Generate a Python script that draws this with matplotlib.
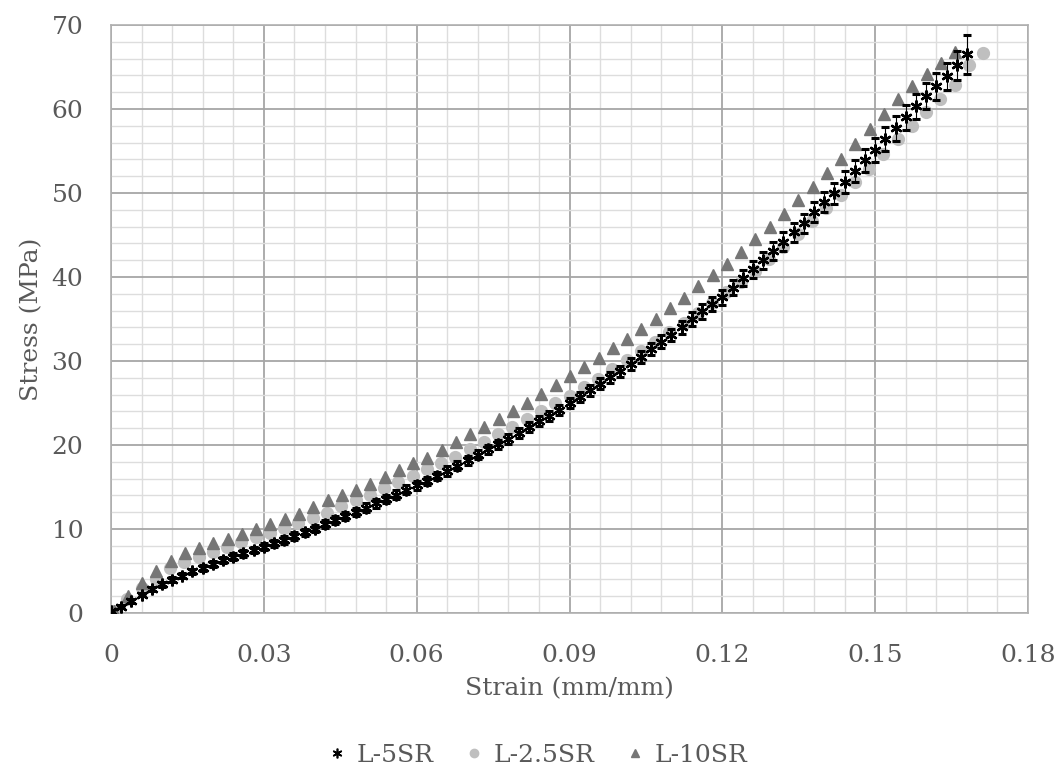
import numpy as np
import matplotlib
matplotlib.use('Agg')
import matplotlib.pyplot as plt
from matplotlib.lines import Line2D
from matplotlib.ticker import MultipleLocator, FormatStrFormatter

# ── Data ───────────────────────────────────────────────────
series_names = ['L-5SR', 'L-2.5SR', 'L-10SR']

# L-5SR: sampled every 0.002 mm/mm
strain_step_5 = 0.002
stress_5 = [
    0.2, 0.75, 1.45, 2.2, 2.85, 3.4, 3.95, 4.45, 4.95, 5.4,
    5.85, 6.3, 6.7, 7.1, 7.5, 7.9, 8.3, 8.7, 9.15, 9.6,
    10.05, 10.6, 11.1, 11.55, 12.05, 12.55, 13.05, 13.55, 14.1, 14.7,
    15.2, 15.75, 16.3, 16.9, 17.55, 18.2, 18.85, 19.5, 20.1, 20.75,
    21.45, 22.15, 22.85, 23.5, 24.2, 25.0, 25.75, 26.5, 27.3, 28.05,
    28.8, 29.6, 30.45, 31.4, 32.3, 33.1, 34.0, 35.0, 35.9, 36.8,
    37.6, 38.7, 39.9, 40.9, 42.0, 43.1, 44.2, 45.3, 46.4, 47.7,
    48.9, 50.0, 51.3, 52.6, 53.9, 55.1, 56.4, 57.7, 59.0, 60.3,
    61.5, 62.7, 63.9, 65.2, 66.5,
]
err_5 = [
    0.1, 0.15, 0.2, 0.2, 0.25, 0.25, 0.3, 0.3, 0.3, 0.35,
    0.35, 0.35, 0.4, 0.4, 0.4, 0.4, 0.45, 0.45, 0.45, 0.45,
    0.45, 0.45, 0.5, 0.5, 0.5, 0.5, 0.5, 0.5, 0.5, 0.5,
    0.5, 0.5, 0.5, 0.55, 0.55, 0.55, 0.55, 0.55, 0.55, 0.6,
    0.6, 0.6, 0.6, 0.6, 0.6, 0.6, 0.6, 0.65, 0.65, 0.65,
    0.65, 0.7, 0.7, 0.7, 0.75, 0.75, 0.8, 0.8, 0.85, 0.85,
    0.9, 0.9, 0.95, 1.0, 1.0, 1.05, 1.1, 1.1, 1.15, 1.2,
    1.2, 1.25, 1.3, 1.3, 1.35, 1.4, 1.4, 1.45, 1.5, 1.5,
    1.55, 1.6, 1.6, 1.7, 2.3,
]

# L-2.5SR: sampled every ~0.0028 mm/mm
strain_step_25 = 0.0028
strain_start_25 = 0.0004
stress_25 = [
    0.2, 1.7, 3.0, 4.1, 5.3, 6.1, 6.7, 7.3, 7.8, 8.4,
    9.0, 9.5, 10.1, 10.7, 11.35, 11.9, 12.7, 13.45, 14.05, 14.85,
    15.55, 16.3, 17.1, 17.9, 18.6, 19.5, 20.3, 21.3, 22.2, 23.05,
    24.0, 25.0, 25.8, 26.9, 27.9, 29.0, 30.1, 31.2, 32.3, 33.4,
    34.5, 35.75, 36.9, 38.2, 39.4, 40.7, 42.1, 43.6, 45.1, 46.7,
    48.2, 49.8, 51.3, 52.9, 54.6, 56.4, 58.0, 59.7, 61.2, 62.8,
    65.2, 66.7,
]

# L-10SR: sampled every ~0.0028 mm/mm
strain_step_10 = 0.0028
strain_start_10 = 0.0005
stress_10 = [
    0.2, 2.0, 3.6, 5.0, 6.2, 7.1, 7.7, 8.3, 8.8, 9.4,
    9.95, 10.6, 11.2, 11.8, 12.6, 13.4, 14.05, 14.7, 15.35, 16.15,
    17.0, 17.8, 18.5, 19.4, 20.3, 21.3, 22.1, 23.05, 24.0, 25.0,
    26.1, 27.1, 28.2, 29.25, 30.4, 31.5, 32.6, 33.8, 35.0, 36.3,
    37.5, 38.9, 40.2, 41.6, 43.0, 44.5, 46.0, 47.5, 49.2, 50.75,
    52.4, 54.1, 55.8, 57.6, 59.4, 61.15, 62.7, 64.2, 65.5, 66.8,
]

strain_5 = np.arange(len(stress_5)) * strain_step_5
strain_25 = strain_start_25 + np.arange(len(stress_25)) * strain_step_25
strain_10 = strain_start_10 + np.arange(len(stress_10)) * strain_step_10

# ── Plot ───────────────────────────────────────────────────
plt.rcParams['font.family'] = ['DejaVu Serif']
text_grey = '#595959'
c_circle = '#bfbfbf'
c_tri = '#767676'

fig = plt.figure(figsize=(10.64, 7.74), dpi=100)
ax = fig.add_axes([0.1043, 0.208, 0.8619, 0.7597])

ax.plot(strain_25, stress_25, linestyle='none', marker='o', ms=8.5,
        color=c_circle, mec=c_circle, zorder=3)
ax.plot(strain_10, stress_10, linestyle='none', marker='^', ms=8,
        color=c_tri, mec=c_tri, zorder=4)
ax.errorbar(strain_5, stress_5, yerr=err_5, fmt='none', ecolor='black',
            elinewidth=0.8, capsize=3, capthick=2.2, zorder=5)
ax.plot(strain_5, stress_5, linestyle='none', marker=(6, 2, 0), ms=8.5,
        mew=1.7, color='black', zorder=6)

ax.set_xlim(0, 0.18)
ax.set_ylim(0, 70)
ax.xaxis.set_major_locator(MultipleLocator(0.03))
ax.xaxis.set_minor_locator(MultipleLocator(0.006))
ax.yaxis.set_major_locator(MultipleLocator(10))
ax.yaxis.set_minor_locator(MultipleLocator(2))
ax.xaxis.set_major_formatter(FormatStrFormatter('%g'))

ax.grid(which='major', color='#a6a6a6', linewidth=1.3, zorder=0)
ax.grid(which='minor', color='#dddddd', linewidth=1.0, zorder=0)
ax.set_axisbelow(True)
for sp in ax.spines.values():
    sp.set_color('#b0b0b0')
    sp.set_linewidth(1.2)

ax.tick_params(which='both', length=0, labelsize=18, labelcolor=text_grey)
ax.tick_params(axis='x', pad=22)
ax.tick_params(axis='y', pad=20)

ax.set_xlabel('Strain (mm/mm)', fontsize=18, color=text_grey, labelpad=8)
ax.set_ylabel('Stress (MPa)', fontsize=18, color=text_grey, labelpad=6)

# legend with smaller markers, as in the reference
leg_handles = [
    Line2D([], [], linestyle='none', marker=(6, 2, 0), ms=7, mew=1.2,
           color='black'),
    Line2D([], [], linestyle='none', marker='o', ms=6, color=c_circle,
           mec=c_circle),
    Line2D([], [], linestyle='none', marker='^', ms=6, color=c_tri,
           mec=c_tri),
]
leg = fig.legend(leg_handles, series_names,
                 loc='lower center', bbox_to_anchor=(0.506, -0.02), ncol=3,
                 frameon=False, fontsize=18,
                 handlelength=0.6, handletextpad=0.5, columnspacing=1.3)
for t in leg.get_texts():
    t.set_color(text_grey)

fig.savefig('out.png', dpi=100)
